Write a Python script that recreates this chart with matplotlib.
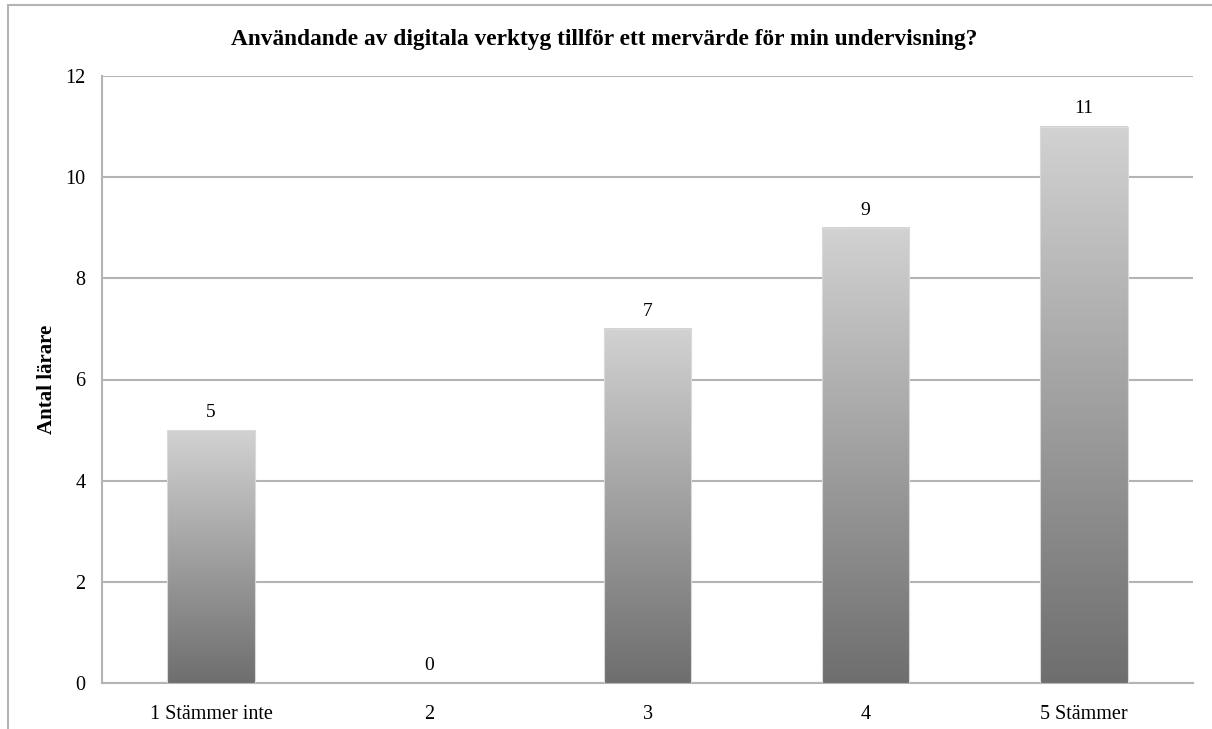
import numpy as np
import matplotlib.pyplot as plt
from matplotlib.patches import Rectangle
from matplotlib.colors import LinearSegmentedColormap

categories = ['1 Stämmer inte', '2', '3', '4', '5 Stämmer']
counts = [5, 0, 7, 9, 11]
yticks = [0, 2, 4, 6, 8, 10, 12]

plt.rcParams['font.family'] = ['Liberation Serif', 'DejaVu Serif']

fig = plt.figure(figsize=(12.12, 7.29), dpi=100)
ax = fig.add_axes([102 / 1212, 1 - 683 / 729, (1193 - 102) / 1212, (683 - 76) / 729])

# outer chart frame (only top and left edges visible)
fig.add_artist(Rectangle((8 / 1212, -0.1), 1.2, 1 - 5 / 729 + 0.1, transform=fig.transFigure,
                         fill=False, edgecolor='#b4b4b4', linewidth=1.5))

x = np.arange(len(categories))
bars = ax.bar(x, counts, width=0.4, color='none', edgecolor='none', zorder=3)

grey = LinearSegmentedColormap.from_list('bargrey', ['#6e6e6e', '#d2d2d2'])
grad = np.linspace(0, 1, 256).reshape(-1, 1)
for b in bars:
    h = b.get_height()
    if h <= 0:
        continue
    x0 = b.get_x()
    ax.imshow(grad, cmap=grey, origin='lower', aspect='auto',
              extent=(x0, x0 + b.get_width(), 0, h), zorder=3)
    ax.add_patch(Rectangle((x0, 0), b.get_width(), h, fill=False,
                           edgecolor='#dadada', linewidth=0.8, zorder=4))

for xi, v in zip(x, counts):
    ax.text(xi, v + 0.18, str(v), ha='center', va='bottom', fontsize=14)

ax.set_xlim(-0.5, len(categories) - 0.5)
ax.set_ylim(0, 12)
ax.set_yticks(yticks)
ax.set_xticks(x)
ax.set_xticklabels(categories)
ax.tick_params(axis='both', length=0, labelsize=14.5)
ax.tick_params(axis='y', pad=12)
ax.tick_params(axis='x', pad=16)
ax.yaxis.grid(True, color='#b4b4b4', linewidth=1.5, zorder=0)
ax.set_axisbelow(True)
for side in ['top', 'right']:
    ax.spines[side].set_visible(False)
for side in ['left', 'bottom']:
    ax.spines[side].set_color('#b4b4b4')
    ax.spines[side].set_linewidth(1.5)

fig.text(47 / 1212, 1 - 379 / 729, 'Antal lärare', rotation=90, ha='center', va='center',
         fontsize=15, fontweight='bold')
fig.text(604 / 1212, 1 - 40 / 729,
         'Användande av digitala verktyg tillför ett mervärde för min undervisning?',
         ha='center', va='center', fontsize=16.8, fontweight='bold')

fig.savefig('out.png', dpi=100)
